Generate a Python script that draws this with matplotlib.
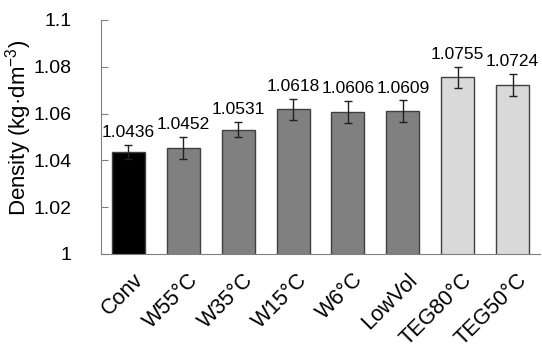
import numpy as np
import matplotlib.pyplot as plt
import matplotlib.transforms as mtransforms

plt.rcParams['font.family'] = ['Liberation Sans', 'DejaVu Sans']

groups = ["Conv", "W55°C", "W35°C", "W15°C", "W6°C", "LowVol", "TEG80°C", "TEG50°C"]
density = [1.0436, 1.0452, 1.0531, 1.0618, 1.0606, 1.0609, 1.0755, 1.0724]
errors = [0.0030, 0.0047, 0.0032, 0.0045, 0.0047, 0.0047, 0.0046, 0.0047]
colors = ["#000000", "#808080", "#808080", "#808080", "#808080", "#808080",
          "#d9d9d9", "#d9d9d9"]

fig = plt.figure(figsize=(5.42, 3.6), dpi=100)
ax = fig.add_axes([101/542, 106/360, 439/542, 234/360])

x = np.arange(len(groups))
ax.bar(x, density, width=0.6, color=colors, edgecolor="#404040", linewidth=1,
       yerr=errors, capsize=3, error_kw=dict(ecolor="#202020", elinewidth=1, capthick=1),
       zorder=2)

for xi, d, e in zip(x, density, errors):
    ax.annotate(f"{d:.4f}", (xi, d + e), xytext=(0, 3.5), textcoords="offset points",
                ha="center", va="bottom", fontsize=12.5)

ax.set_xlim(-0.5, len(groups) - 0.5)
ax.set_ylim(1, 1.1)
ax.set_yticks([1, 1.02, 1.04, 1.06, 1.08, 1.1])
ax.set_yticklabels(["1", "1.02", "1.04", "1.06", "1.08", "1.1"])
ax.set_xticks(x)
ax.set_xticklabels(groups, rotation=45, ha="right", rotation_mode="anchor", fontsize=15.5)
ax.tick_params(axis="y", direction="in", length=5, color="#808080", labelsize=14, pad=21)
ax.tick_params(axis="x", length=0, pad=11)

# nudge rotated labels a bit to the right
shift = mtransforms.ScaledTranslation(4/100, 0, fig.dpi_scale_trans)
for lab in ax.get_xticklabels():
    lab.set_transform(lab.get_transform() + shift)

for s in ["top", "right"]:
    ax.spines[s].set_visible(False)
for s in ["left", "bottom"]:
    ax.spines[s].set_color("#808080")

ax.set_ylabel("Density (kg·dm$^{\\mathregular{-3}}$)", fontsize=16)
ax.yaxis.set_label_coords(-0.152, 0.54)

fig.savefig("out.png", dpi=100)
